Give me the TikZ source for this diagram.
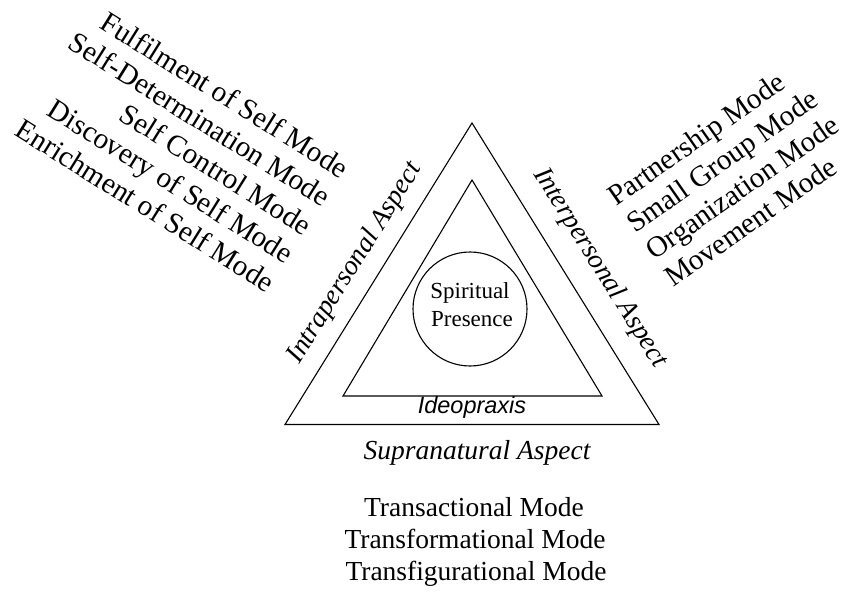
\documentclass[tikz,border=0pt]{standalone}
\usepackage{fontspec}
\setmainfont{Liberation Serif}
\newfontfamily\ideofont{Liberation Sans}
\begin{document}
\begin{tikzpicture}[x=1pt,y=-1pt,
  tri/.style={draw=black, line width=1.1pt, line join=miter},
  big/.style={inner sep=0pt, font=\fontsize{27.5}{33}\selectfont},
  side/.style={inner sep=0pt, font=\fontsize{29.3}{33}\selectfont},
  bigit/.style={inner sep=0pt, font=\fontsize{27.5}{33}\selectfont\itshape},
  mid/.style={inner sep=0pt, font=\fontsize{23}{28}\selectfont},
  ideo/.style={inner sep=0pt, font=\fontsize{23.5}{28}\selectfont\ideofont\itshape}]
\useasboundingbox (0,0) rectangle (851,596);
% triangles
\coordinate (oA) at (472,123);
\coordinate (oL) at (285,424.5);
\coordinate (oR) at (659,424.5);
\coordinate (iA) at (472,180);
\coordinate (iL) at (343,396);
\coordinate (iR) at (602,396);
\draw[tri] (oA) -- (oL) -- (oR) -- cycle;
\draw[tri] (iA) -- (iL) -- (iR) -- cycle;
% circle
\node[circle, draw=black, line width=1.1pt, minimum size=114pt, inner sep=0pt] (sp) at (470,309) {};
\node[mid, anchor=base] (spi) at (470,298) {Spiritual};
\node[mid, anchor=base] (pre) at (472,326) {Presence};
\node[ideo, anchor=base] (idx) at (472,413) {Ideopraxis};
% side aspects
\node[bigit, rotate=58] (intra) at (355,263) {Intrapersonal Aspect};
\node[bigit, rotate=-58] (inter) at (600,268) {Interpersonal Aspect};
\node[bigit, anchor=base] (supra) at (477,459) {Supranatural Aspect};
% left modes
\node[side, rotate=-32, anchor=base east] (l1) at (341,179) {Fulfilment of Self Mode};
\node[side, rotate=-32, anchor=base east] (l2) at (322.5,207.5) {Self-Determination Mode};
\node[side, rotate=-32, anchor=base east] (l3) at (304,236) {Self Control Mode};
\node[side, rotate=-32, anchor=base east] (l4) at (285.5,264.5) {Discovery of Self Mode};
\node[side, rotate=-32, anchor=base east] (l5) at (267,293) {Enrichment of Self Mode};
% right modes
\node[side, rotate=35, anchor=base west] (r1) at (616,207) {Partnership Mode};
\node[side, rotate=35, anchor=base west] (r2) at (635,234) {Small Group Mode};
\node[side, rotate=35, anchor=base west] (r3) at (654,261) {Organization Mode};
\node[side, rotate=35, anchor=base west] (r4) at (673,288) {Movement Mode};
% bottom modes
\node[big, anchor=base] (b1) at (474,516.5) {Transactional Mode};
\node[big, anchor=base] (b2) at (475,548.5) {Transformational Mode};
\node[big, anchor=base] (b3) at (476,580) {Transfigurational Mode};
\end{tikzpicture}
\end{document}
